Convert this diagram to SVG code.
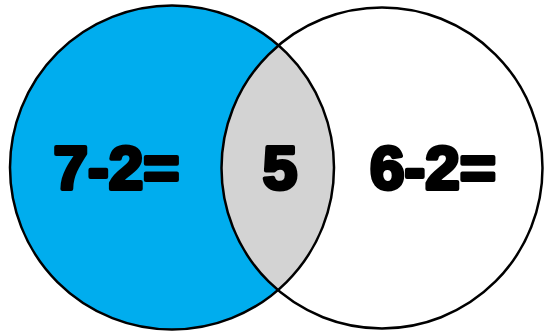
<svg xmlns="http://www.w3.org/2000/svg" width="544" height="333" viewBox="0 0 544 333">
  <style>
    .ring { fill: none; stroke: #000; stroke-width: 2.5; }
    .lbl { font-family: "Liberation Sans", Arial, sans-serif; font-weight: bold; font-size: 62px; fill: #000; stroke: #000; stroke-width: 4; stroke-linejoin: round; text-anchor: middle; }
  </style>
  <defs>
    <clipPath id="clipLeft">
      <circle cx="172" cy="167.5" r="162"/>
    </clipPath>
  </defs>
  <rect width="544" height="333" fill="#fff"/>
  <g id="left-set">
    <circle cx="172" cy="167.5" r="162" fill="#00ADEE"/>
  </g>
  <g id="right-set">
    <circle cx="382" cy="168" r="160.5" fill="#fff"/>
  </g>
  <g id="intersection">
    <circle cx="382" cy="168" r="160.5" fill="#D3D3D3" clip-path="url(#clipLeft)"/>
  </g>
  <g id="outlines">
    <circle class="ring" cx="172" cy="167.5" r="162"/>
    <circle class="ring" cx="382" cy="168" r="160.5"/>
  </g>
  <g id="labels">
    <text class="lbl" x="116.5" y="189">7-2=</text>
    <text class="lbl" x="280" y="189">5</text>
    <text class="lbl" x="433" y="189">6-2=</text>
  </g>
</svg>
